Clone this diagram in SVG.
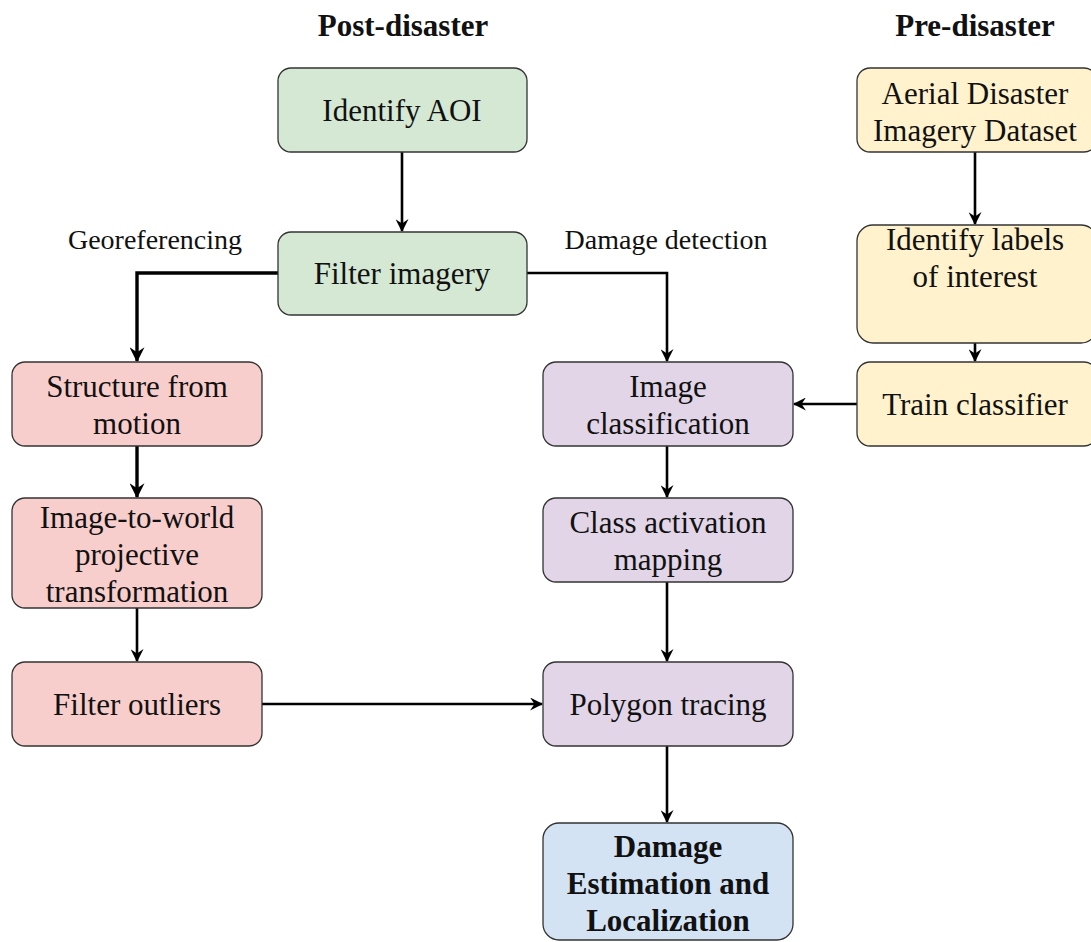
<svg xmlns="http://www.w3.org/2000/svg" width="1091" height="942" viewBox="0 0 1091 942">
<style>
text{font-family:"Liberation Serif","Times New Roman",serif;font-size:31px;fill:#111;text-anchor:middle;dominant-baseline:central}
.b{font-weight:bold}
.h{font-weight:bold;font-size:31px}
.lbl{font-size:28px}
rect{stroke:#333;stroke-width:1.3}
.g{fill:#d5e8d4}.r{fill:#f8cecc}.p{fill:#e1d5e7}.y{fill:#fff2cc}.bl{fill:#d3e3f3}
.c{fill:none;stroke:#000;stroke-width:2.6}
.t{stroke-width:3.4}
</style>
<defs>
<marker id="a" viewBox="0 0 12 12" refX="11" refY="6" markerWidth="13" markerHeight="13" markerUnits="userSpaceOnUse" orient="auto">
<path d="M0,0 L12,6 L0,12 L4,6 Z" fill="#000"/>
</marker>
<marker id="a2" viewBox="0 0 12 12" refX="11" refY="6" markerWidth="15" markerHeight="15" markerUnits="userSpaceOnUse" orient="auto">
<path d="M0,0 L12,6 L0,12 L4,6 Z" fill="#000"/>
</marker>
</defs>
<text class="h" x="403" y="25">Post-disaster</text>
<text class="h" x="975" y="25">Pre-disaster</text>
<g id="connectors">
<path class="c" d="M402,152 V231" marker-end="url(#a)"/>
<path class="c t" d="M278,273 H137 V361" marker-end="url(#a2)"/>
<path class="c" d="M527,273 H667 V361" marker-end="url(#a)"/>
<path class="c t" d="M137,446 V497" marker-end="url(#a2)"/>
<path class="c" d="M137,608 V661" marker-end="url(#a)"/>
<path class="c" d="M262,704 H542" marker-end="url(#a)"/>
<path class="c" d="M667,446 V497" marker-end="url(#a)"/>
<path class="c" d="M667,582 V661" marker-end="url(#a)"/>
<path class="c" d="M667,746 V822" marker-end="url(#a)"/>
<path class="c" d="M975,152 V224" marker-end="url(#a)"/>
<path class="c" d="M975,343 V361" marker-end="url(#a)"/>
<path class="c" d="M857,404 H794" marker-end="url(#a)"/>
<text class="lbl" x="155" y="239">Georeferencing</text>
<text class="lbl" x="666" y="239">Damage detection</text>
</g>
<g id="identify-aoi"><rect class="g" x="278" y="68" width="249" height="84" rx="13"/><text x="402" y="110">Identify AOI</text></g>
<g id="filter-imagery"><rect class="g" x="278" y="232" width="249" height="83" rx="13"/><text x="402" y="273">Filter imagery</text></g>
<g id="sfm"><rect class="r" x="12" y="362" width="250" height="84" rx="13"/><text x="137" y="386">Structure from</text><text x="137" y="423">motion</text></g>
<g id="img2world"><rect class="r" x="12" y="498" width="250" height="110" rx="13"/><text x="137" y="517">Image-to-world</text><text x="137" y="554">projective</text><text x="137" y="591">transformation</text></g>
<g id="filter-outliers"><rect class="r" x="12" y="662" width="250" height="84" rx="13"/><text x="137" y="704">Filter outliers</text></g>
<g id="image-classification"><rect class="p" x="543" y="362" width="250" height="84" rx="13"/><text x="668" y="386">Image</text><text x="668" y="423">classification</text></g>
<g id="cam"><rect class="p" x="543" y="498" width="250" height="84" rx="13"/><text x="668" y="522">Class activation</text><text x="668" y="559">mapping</text></g>
<g id="polygon-tracing"><rect class="p" x="543" y="662" width="250" height="84" rx="13"/><text x="668" y="704">Polygon tracing</text></g>
<g id="damage"><rect class="bl" x="543" y="823" width="250" height="117" rx="16"/><text class="b" x="668" y="846">Damage</text><text class="b" x="668" y="883">Estimation and</text><text class="b" x="668" y="920">Localization</text></g>
<g id="aerial"><rect class="y" x="857" y="68" width="240" height="84" rx="13"/><text x="975" y="93">Aerial Disaster</text><text x="975" y="130">Imagery Dataset</text></g>
<g id="labels"><rect class="y" x="857" y="225" width="240" height="118" rx="16"/><text x="975" y="239">Identify labels</text><text x="975" y="276">of interest</text></g>
<g id="train"><rect class="y" x="857" y="362" width="240" height="84" rx="13"/><text x="975" y="404">Train classifier</text></g>
</svg>
